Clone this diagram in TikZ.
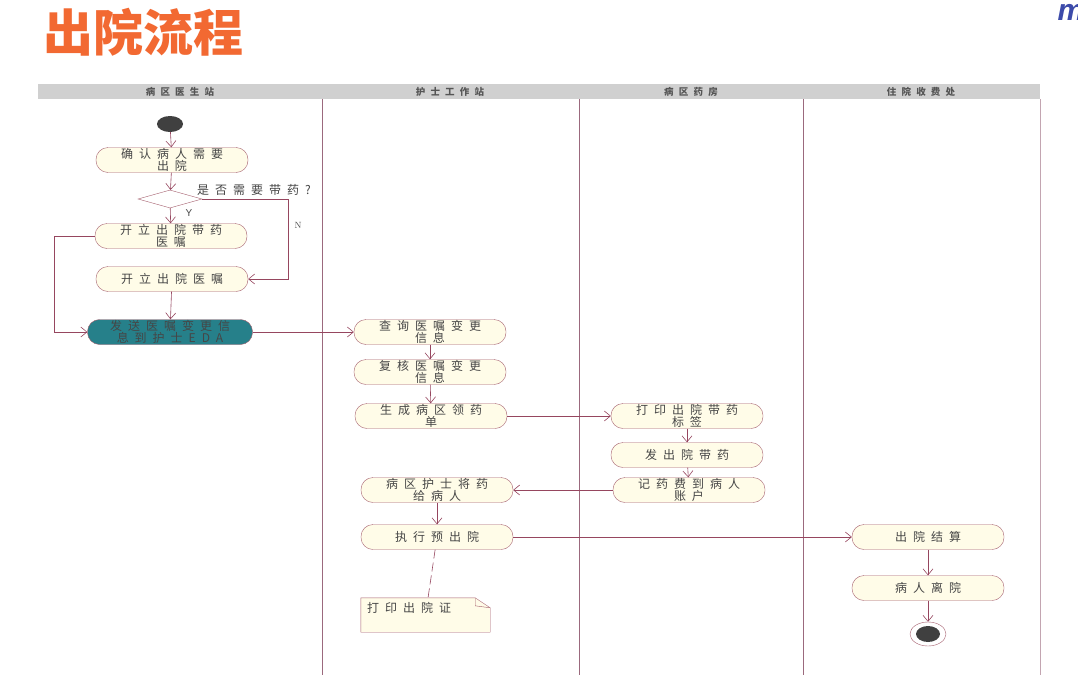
\documentclass[tikz,border=0pt]{standalone}
\usepackage{fontspec}
\usetikzlibrary{positioning,shapes.geometric,arrows.meta}
\newfontfamily\cjk[LetterSpace=50]{Noto Sans CJK SC}
\newfontfamily\cjkhead[LetterSpace=55]{Noto Sans CJK SC}
\newfontfamily\cjktitle{Noto Sans CJK SC}
\newfontfamily\latin{Liberation Sans}
\definecolor{actfill}{RGB}{255,252,232}
\definecolor{actline}{RGB}{165,95,110}
\definecolor{flowline}{RGB}{150,70,95}
\definecolor{laneline}{RGB}{155,105,125}
\definecolor{headfill}{RGB}{208,208,208}
\definecolor{headtext}{RGB}{85,85,85}
\definecolor{acttext}{RGB}{70,70,70}
\definecolor{sendfill}{RGB}{38,128,138}
\definecolor{titleorange}{RGB}{242,105,50}
\definecolor{logoblue}{RGB}{60,75,170}
\definecolor{dotfill}{RGB}{64,64,64}
\begin{document}
\begin{tikzpicture}[x=1pt,y=-1pt,
  act/.style={draw=actline, fill=actfill, rounded corners=12pt, minimum width=152pt,
    minimum height=25pt, inner sep=0pt, align=center, text=acttext,
    font=\cjk\fontsize{12}{11.5}\selectfont},
  flow/.style={draw=flowline, line width=0.6pt, -{Straight Barb[length=6pt,width=10pt]}},
  lane/.style={draw=laneline, line width=0.8pt},
  head/.style={text=headtext, font=\cjkhead\bfseries\fontsize{9.5}{9.5}\selectfont},
  label/.style={text=acttext, font=\cjk\fontsize{12}{12}\selectfont, inner sep=0pt},
  decision/.style={diamond, draw=actline, fill=white, minimum width=64pt, minimum height=18pt,
    aspect=3.5, inner sep=0pt},
  startdot/.style={ellipse, fill=dotfill, minimum width=26pt, minimum height=16pt, inner sep=0pt},
  endring/.style={ellipse, draw=actline, fill=white, minimum width=36pt, minimum height=24pt, inner sep=0pt},
  notebox/.style={minimum width=129pt, minimum height=34pt, inner sep=0pt}]
\useasboundingbox (0,0) rectangle (1078,680);
\fill[white] (0,0) rectangle (1078,680);
\node[anchor=west, text=titleorange, font=\cjktitle\bfseries\fontsize{50}{50}\selectfont] (title) at (40,32) {出院流程};
\node[anchor=west, text=logoblue, font=\latin\bfseries\itshape\fontsize{30}{30}\selectfont] (logo) at (1054,12) {m};
\fill[headfill] (38,84) rectangle (1040,99);
\draw[lane] (322,99) -- (322,675);
\draw[lane] (579,99) -- (579,675);
\draw[lane] (803,99) -- (803,675);
\draw[lane, draw=laneline!60] (1040,99) -- (1040,675);
\node[head] (h1) at (180,91.5) {病区医生站};
\node[head] (h2) at (450,91.5) {护士工作站};
\node[head] (h3) at (691,91.5) {病区药房};
\node[head] (h4) at (921,91.5) {住院收费处};
\node[startdot] (start) at (170,124) {};
\node[act] (confirm) at (172,160) {确认病人需要\\出院};
\node[decision] (dec) at (170,199) {};
\node[act] (rxmed) at (171,236) {开立出院带药\\医嘱};
\node[act] (rx) at (172,279) {开立出院医嘱};
\node[act, fill=sendfill, minimum width=165pt] (send) at (170,332) {发送医嘱变更信\\息到护士EDA};
\node[act] (query) at (430,332) {查询医嘱变更\\信息};
\node[act] (review) at (430,372) {复核医嘱变更\\信息};
\node[act] (gen) at (431,416) {生成病区领药\\单};
\node[act] (printlbl) at (687,416) {打印出院带药\\标签};
\node[act] (issue) at (687,455) {发出院带药};
\node[act] (fee) at (689,490) {记药费到病人\\账户};
\node[act] (give) at (437,490) {病区护士将药\\给病人};
\node[act] (pre) at (437,537) {执行预出院};
\node[act] (settle) at (928,537) {出院结算};
\node[act] (leave) at (928,588) {病人离院};
\node[endring] (end) at (928,634) {};
\node[ellipse, fill=dotfill, minimum width=24pt, minimum height=16pt, inner sep=0pt] (endcore) at (end) {};
\node[notebox] (note) at (425.5,615) {};
\draw[draw=actline, fill=actfill] (note.north west) -- ([xshift=-15pt]note.north east) -- ([yshift=-10pt]note.north east)
  -- (note.south east) -- (note.south west) -- cycle;
\draw[draw=actline] ([xshift=-15pt]note.north east) -- ([xshift=-15pt,yshift=-8pt]note.north east) -- ([yshift=-10pt]note.north east);
\node[label, anchor=north west] (notetxt) at ([xshift=6pt,yshift=-4pt]note.north west) {打印出院证};
\node[label, anchor=south west] (ask) at (197,196) {是否需要带药?};
\node[text=acttext, font=\latin\fontsize{10}{10}\selectfont] (ylbl) at (189,213) {Y};
\node[text=acttext, font=\fontsize{9}{9}\selectfont] (nlbl) at (298,225) {N};
\coordinate (nturn) at (288,199);
\coordinate (lturn) at (54,236);
\draw[flow] (start) -- (confirm);
\draw[flow] (confirm) -- (dec);
\draw[flow] (dec) -- (rxmed);
\draw[flow] (dec.east) -- (nturn) |- (rx.east);
\draw[flow] (rxmed.west) -- (lturn) |- (send.west);
\draw[flow] (rx) -- (send);
\draw[flow] (send) -- (query);
\draw[flow] (query) -- (review);
\draw[flow] (review) -- (gen);
\draw[flow] (gen) -- (printlbl);
\draw[flow] (printlbl) -- (issue);
\draw[flow] (issue) -- (fee);
\draw[flow] (fee) -- (give);
\draw[flow] (give) -- (pre);
\draw[flow] (pre) -- (settle);
\draw[flow] (settle) -- (leave);
\draw[flow] (leave) -- (end);
\draw[draw=flowline, line width=0.6pt, dash pattern=on 9pt off 4pt] (pre) -- (note);
\end{tikzpicture}
\end{document}
